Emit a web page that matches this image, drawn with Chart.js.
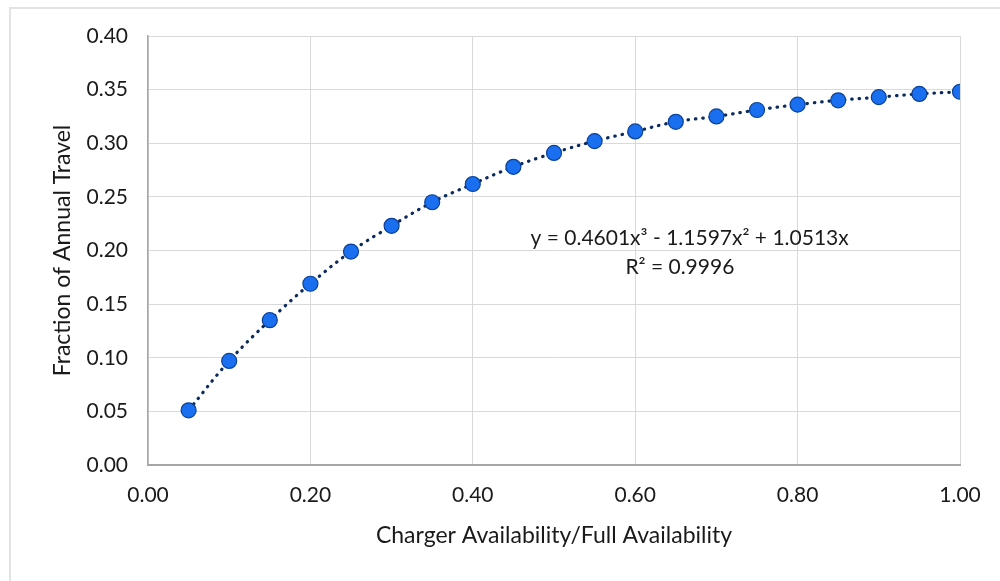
<!DOCTYPE html>
<html>
<head>
<meta charset="utf-8">
<script src="https://cdn.jsdelivr.net/npm/chart.js@4"></script>
<style>
  html, body { margin: 0; padding: 0; background: #fff; }
  #wrap { position: relative; width: 1000px; height: 581px; }
  #frame { position: absolute; left: 9px; top: 7px; right: 0; bottom: 0;
           border-left: 2px solid #e3e3e3; border-top: 2px solid #e3e3e3; }
  canvas { position: absolute; left: 0; top: 0; }
</style>
</head>
<body>
<div id="wrap">
  <div id="frame"></div>
  <canvas id="myChart" width="1000" height="581"></canvas>
</div>
<script>
const availability = [0.05, 0.10, 0.15, 0.20, 0.25, 0.30, 0.35, 0.40, 0.45, 0.50,
  0.55, 0.60, 0.65, 0.70, 0.75, 0.80, 0.85, 0.90, 0.95, 1.00];
const fractionTravel = [0.051, 0.097, 0.135, 0.169, 0.199, 0.223, 0.245, 0.262, 0.278, 0.291,
  0.302, 0.311, 0.320, 0.325, 0.331, 0.336, 0.340, 0.343, 0.346, 0.348];
const trendLabel = ["y = 0.4601x³ - 1.1597x² + 1.0513x", "R² = 0.9996"];

const fontFamily = "Lato, 'Open Sans', sans-serif";

// equation text of the trendline, placed in data units
const trendText = {
  id: "trendText",
  afterDatasetsDraw(chart) {
    const ctx = chart.ctx;
    const xs = chart.scales.x;
    const ys = chart.scales.y;
    ctx.save();
    ctx.fillStyle = "#1a1a1a";
    ctx.font = "21px " + fontFamily;
    ctx.textAlign = "center";
    ctx.textBaseline = "middle";
    ctx.fillText(trendLabel[0], xs.getPixelForValue(0.667), ys.getPixelForValue(0.2115));
    ctx.fillText(trendLabel[1], xs.getPixelForValue(0.655), ys.getPixelForValue(0.1845));
    ctx.restore();
  },
};

const data = {
  datasets: [
    {
      label: "Fraction of Annual Travel",
      data: availability.map((x, i) => ({ x: x, y: fractionTravel[i] })),
      showLine: true,
      tension: 0.4,
      borderColor: "#0b2a5e",
      borderWidth: 3.2,
      borderDash: [0.5, 7],
      borderCapStyle: "round",
      pointRadius: 7.5,
      pointBackgroundColor: "#1a6ff0",
      pointBorderColor: "#0b4197",
      pointBorderWidth: 1.2,
    },
  ],
};

const config = {
  type: "scatter",
  data: data,
  options: {
    responsive: false,
    animation: false,
    layout: { padding: { left: 0, right: 40, top: 36, bottom: 0 } },
    plugins: {
      legend: { display: false },
      tooltip: { enabled: false },
    },
    scales: {
      x: {
        type: "linear",
        min: 0,
        max: 1,
        afterFit: (scale) => { scale.height = 116; },
        ticks: {
          stepSize: 0.2,
          padding: 18,
          color: "#1a1a1a",
          font: { size: 21, family: fontFamily },
          callback: (v) => v.toFixed(2),
        },
        grid: { color: "#d9d9d9", drawTicks: false },
        border: { color: "#a6a6a6", width: 2 },
        title: {
          display: true,
          text: "Charger Availability/Full Availability",
          color: "#1a1a1a",
          font: { size: 23, family: fontFamily },
          padding: { top: 0, bottom: 32 },
        },
      },
      y: {
        min: 0,
        max: 0.4,
        afterFit: (scale) => { scale.width = 148; },
        ticks: {
          stepSize: 0.05,
          padding: 20,
          color: "#1a1a1a",
          font: { size: 21, family: fontFamily },
          callback: (v) => v.toFixed(2),
        },
        grid: { color: "#d9d9d9", drawTicks: false },
        border: { color: "#a6a6a6", width: 1.5 },
        title: {
          display: true,
          text: "Fraction of Annual Travel",
          color: "#1a1a1a",
          font: { size: 23, family: fontFamily },
          padding: { top: 49, bottom: 0 },
        },
      },
    },
  },
  plugins: [trendText],
};

var myChart = new Chart(document.getElementById("myChart"), config);
</script>
</body>
</html>
